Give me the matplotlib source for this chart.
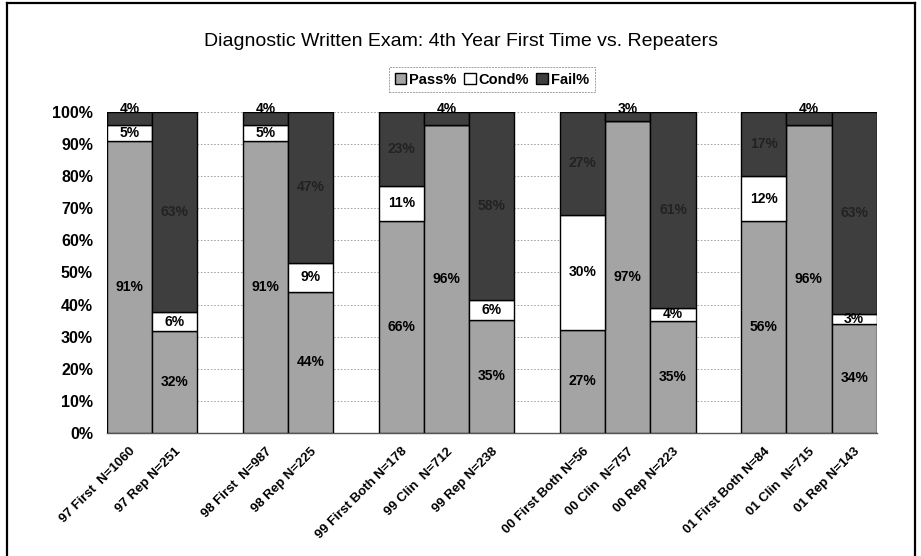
import matplotlib
matplotlib.use('Agg')
import matplotlib.pyplot as plt
from matplotlib.lines import Line2D
from matplotlib.patches import Patch
import numpy as np

# bar labels, grouped by year (empty slot between groups)
groups = [
    ["97 First  N=1060", "97 Rep N=251"],
    ["98 First  N=987", "98 Rep N=225"],
    ["99 First Both N=178", "99 Clin  N=712", "99 Rep N=238"],
    ["00 First Both N=56", "00 Clin  N=757", "00 Rep N=223"],
    ["01 First Both N=84", "01 Clin  N=715", "01 Rep N=143"],
]
pass_pct = [91, 32, 91, 44, 66, 96, 35, 27, 97, 35, 56, 96, 34]
cond_pct = [5, 6, 5, 9, 11, 0, 6, 30, 0, 4, 12, 0, 3]
fail_pct = [4, 63, 4, 47, 23, 4, 58, 27, 3, 61, 17, 4, 63]

# flatten groups into slot positions, leaving a blank slot between groups
labels, xpos = [], []
slot = 0
for g in groups:
    for lab in g:
        labels.append(lab)
        xpos.append(slot)
        slot += 1
    slot += 1
n_slots = slot - 1
xpos = np.array(xpos)

p = np.array(pass_pct, float)
c = np.array(cond_pct, float)
f = np.array(fail_pct, float)
tot = p + c + f
p_n, c_n, f_n = p / tot * 100, c / tot * 100, f / tot * 100

fig = plt.figure(figsize=(9.21, 5.56), dpi=100)
ax = fig.add_axes([0.116, 0.221, 0.836, 0.578])

pass_col, cond_col, fail_col = '#a4a4a4', '#ffffff', '#3e3e3e'
kw = dict(width=1.0, edgecolor='black', linewidth=1.0, zorder=3)
ax.bar(xpos, p_n, color=pass_col, **kw)
ax.bar(xpos, c_n, bottom=p_n, color=cond_col, **kw)
ax.bar(xpos, f_n, bottom=p_n + c_n, color=fail_col, **kw)

lab_kw = dict(ha='center', va='center', fontsize=10, fontweight='bold',
              family=['Liberation Sans', 'DejaVu Sans'], zorder=5)
for i in range(len(xpos)):
    ax.text(xpos[i], p_n[i] / 2, f"{pass_pct[i]}%", **lab_kw)
    if cond_pct[i] > 0:
        ax.text(xpos[i], p_n[i] + c_n[i] / 2, f"{cond_pct[i]}%", **lab_kw)
    if fail_pct[i] < 5:
        ax.text(xpos[i], 100.8, f"{fail_pct[i]}%", **lab_kw)
    else:
        ax.text(xpos[i], p_n[i] + c_n[i] + f_n[i] / 2, f"{fail_pct[i]}%",
                color='#222222', **lab_kw)

ax.set_xlim(-0.5, n_slots - 0.5)
ax.set_ylim(0, 100)
ax.set_yticks(np.arange(0, 101, 10))
ax.set_yticklabels([f"{v}%" for v in range(0, 101, 10)],
                   fontsize=11.5, fontweight='bold', family='Liberation Sans')
ax.set_xticks(xpos)
ax.set_xticklabels(labels, rotation=45, ha='right', rotation_mode='anchor',
                   fontsize=9.5, fontweight='bold', family='Liberation Sans')
ax.tick_params(axis='y', length=0, pad=10)
ax.tick_params(axis='x', length=0, pad=9)
ax.yaxis.grid(True, color='#999999', linestyle=(0, (2, 2)), linewidth=0.6, zorder=0)
ax.set_axisbelow(True)
for s in ['top', 'right', 'left']:
    ax.spines[s].set_visible(False)
ax.spines['bottom'].set_color('#555555')
ax.spines['bottom'].set_linewidth(1.0)

fig.text(0.5, 0.926, "Diagnostic Written Exam: 4th Year First Time vs. Repeaters",
         ha='center', va='center', fontsize=14,
         family=['Liberation Sans', 'DejaVu Sans'])

handles = [Patch(facecolor=pass_col, edgecolor='black', label='Pass%'),
           Patch(facecolor=cond_col, edgecolor='black', label='Cond%'),
           Patch(facecolor=fail_col, edgecolor='black', label='Fail%')]
leg = fig.legend(handles=handles, loc='center', bbox_to_anchor=(0.534, 0.857),
                 ncol=3, frameon=True, handlelength=0.8,
                 handleheight=0.8, handletextpad=0.2, columnspacing=0.5,
                 borderpad=0.3, prop={'weight': 'bold', 'family': 'Liberation Sans', 'size': 10.5})
leg.get_frame().set_edgecolor('#888888')
leg.get_frame().set_linestyle((0, (2, 1)))
leg.get_frame().set_linewidth(0.7)
leg.get_frame().set_boxstyle('square', pad=0.1)

# outer frame of the chart
for xs, ys in [([0.008, 0.008], [0.0, 0.994]), ([0.008, 0.994], [0.994, 0.994]),
               ([0.994, 0.994], [0.0, 0.994])]:
    fig.add_artist(Line2D(xs, ys, color='black', linewidth=1.6,
                          transform=fig.transFigure))

fig.savefig('out.png', dpi=100, facecolor='white')
